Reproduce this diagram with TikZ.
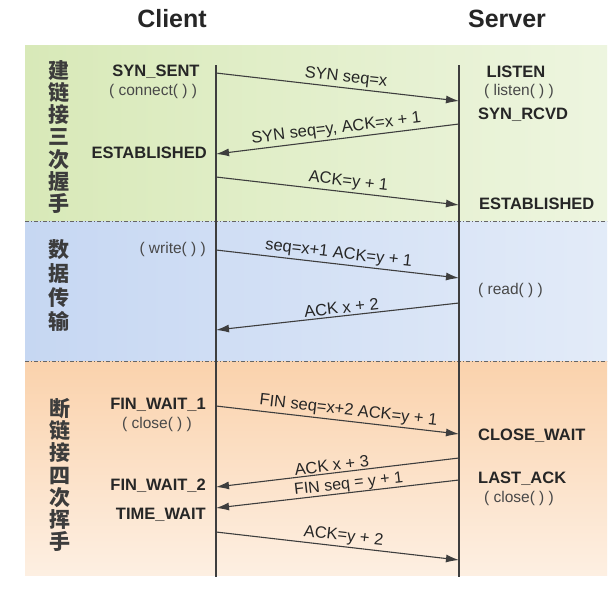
\documentclass[tikz,border=0pt]{standalone}
\usepackage{fontspec}
\setmainfont{Liberation Sans}
\newfontfamily\cjk{Noto Sans CJK SC}
\usepackage{tikz}
\usetikzlibrary{arrows,arrows.meta}
\usetikzlibrary{calc}
\definecolor{linie}{RGB}{62,62,62}
\definecolor{schrift}{RGB}{38,38,38}
\definecolor{klammer}{RGB}{72,72,72}
\definecolor{gruen}{RGB}{216,233,184}
\definecolor{blau}{RGB}{198,215,242}
\definecolor{apricot}{RGB}{250,210,172}
\colorlet{gruen-lighter}{gruen!45}
\colorlet{blau-lighter}{blau!50}
\colorlet{apricot-lighter}{apricot!35}

\begin{document}
\begin{tikzpicture}[x=1pt, y=-1pt, >={Latex[length=13pt,width=8pt]},
    msg/.style={draw=linie, line width=1.1pt, ->},
    lifeline/.style={draw=linie, line width=1.1pt},
    trenner/.style={draw=linie!80, line width=0.9pt, dash pattern=on 4pt off 2pt on 1pt off 2pt},
    state/.style={text=schrift, font=\bfseries\fontsize{16.5}{18}\selectfont, inner sep=1pt},
    call/.style={text=klammer, font=\fontsize{15.5}{17}\selectfont, inner sep=1pt},
    lbl/.style={text=schrift, font=\fontsize{16.5}{18}\selectfont, sloped, above, inner sep=2pt},
    phase/.style={text=schrift!90, font=\cjk\bfseries\fontsize{21}{22.3}\selectfont, align=center}]

    \useasboundingbox (0,0) rectangle (610,589);
    \fill[white] (0,0) rectangle (610,589);

    % hintergrund
    \shade[left color=gruen, right color=gruen-lighter] (25,45) rectangle (607,221);
    \shade[left color=blau, right color=blau-lighter] (25,221) rectangle (607,361);
    \shade[top color=apricot, bottom color=apricot-lighter] (25,361) rectangle (607,575);
    \draw[trenner] (25,221) -- (607,221);
    \draw[trenner] (25,361) -- (607,361);

    % titel
    \node[text=schrift, font=\bfseries\fontsize{25}{27}\selectfont] (client) at (172,19) {Client};
    \node[text=schrift, font=\bfseries\fontsize{25}{27}\selectfont] (server) at (507,19) {Server};

    % phasen
    \node[phase] (aufbau) at (59,137) {建\\链\\接\\三\\次\\握\\手};
    \node[phase, font=\cjk\bfseries\fontsize{21}{24}\selectfont] (daten) at (59,285) {数\\据\\传\\输};
    \node[phase] (abbau) at (60,475) {断\\链\\接\\四\\次\\挥\\手};

    % lebenslinien
    \coordinate (ctop) at (216,65);
    \coordinate (cbot) at (216,577);
    \coordinate (stop) at (459,65);
    \coordinate (sbot) at (459,577);
    \draw[lifeline] (ctop) -- (cbot);
    \draw[lifeline] (stop) -- (sbot);

    % zustaende client
    \node[state] (synsent) at (156,72) {SYN\_SENT};
    \node[call] (connect) at (153,91) {( connect( ) )};
    \node[state, anchor=east] (cest) at (208,153) {ESTABLISHED};
    \node[call, anchor=east] (write) at (207,249) {( write( ) )};
    \node[state] (fw1) at (158,405) {FIN\_WAIT\_1};
    \node[call] (cclose) at (157,424) {( close( ) )};
    \node[state, anchor=east] (fw2) at (207,486) {FIN\_WAIT\_2};
    \node[state, anchor=east] (tw) at (207,515) {TIME\_WAIT};

    % zustaende server
    \node[state] (listen) at (516,72) {LISTEN};
    \node[call] (listencall) at (519,91) {( listen( ) )};
    \node[state, anchor=west] (synrcvd) at (477,115) {SYN\_RCVD};
    \node[state, anchor=west] (sest) at (478,204) {ESTABLISHED};
    \node[call, anchor=west] (read) at (477,290) {( read( ) )};
    \node[state, anchor=west] (closewait) at (477,436) {CLOSE\_WAIT};
    \node[state, anchor=west] (lastack) at (477,479) {LAST\_ACK};
    \node[call] (sclose) at (519,498) {( close( ) )};

    % nachrichten
    \coordinate (c1) at (216,73);  \coordinate (s1) at (459,101);
    \coordinate (s2) at (459,124); \coordinate (c2) at (216,154);
    \coordinate (c3) at (216,177); \coordinate (s3) at (459,205);
    \coordinate (c4) at (216,250); \coordinate (s4) at (459,278);
    \coordinate (s5) at (459,303); \coordinate (c5) at (216,330);
    \coordinate (c6) at (216,406); \coordinate (s6) at (459,434);
    \coordinate (s7) at (459,458); \coordinate (c7) at (216,487);
    \coordinate (s8) at (459,480); \coordinate (c8) at (216,508);
    \coordinate (c9) at (216,532); \coordinate (s9) at (459,560);

    \draw[msg] (c1) -- (s1) node[lbl, pos=0.53] {SYN seq=x};
    \draw[msg] (s2) -- (c2) node[lbl, pos=0.5] {SYN seq=y, ACK=x + 1};
    \draw[msg] (c3) -- (s3) node[lbl, pos=0.54] {ACK=y + 1};
    \draw[msg] (c4) -- (s4) node[lbl, pos=0.5] {seq=x+1 ACK=y + 1};
    \draw[msg] (s5) -- (c5) node[lbl, pos=0.48] {ACK x + 2};
    \draw[msg] (c6) -- (s6) node[lbl, pos=0.54] {FIN seq=x+2 ACK=y + 1};
    \draw[msg] (s7) -- (c7) node[lbl, pos=0.52, inner sep=1.5pt] {ACK x + 3};
    \draw[msg] (s8) -- (c8) node[lbl, pos=0.45, inner sep=0.3pt, font=\fontsize{16}{17}\selectfont] {FIN seq = y + 1};
    \draw[msg] (c9) -- (s9) node[lbl, pos=0.52] {ACK=y + 2};

\end{tikzpicture}
\end{document}
